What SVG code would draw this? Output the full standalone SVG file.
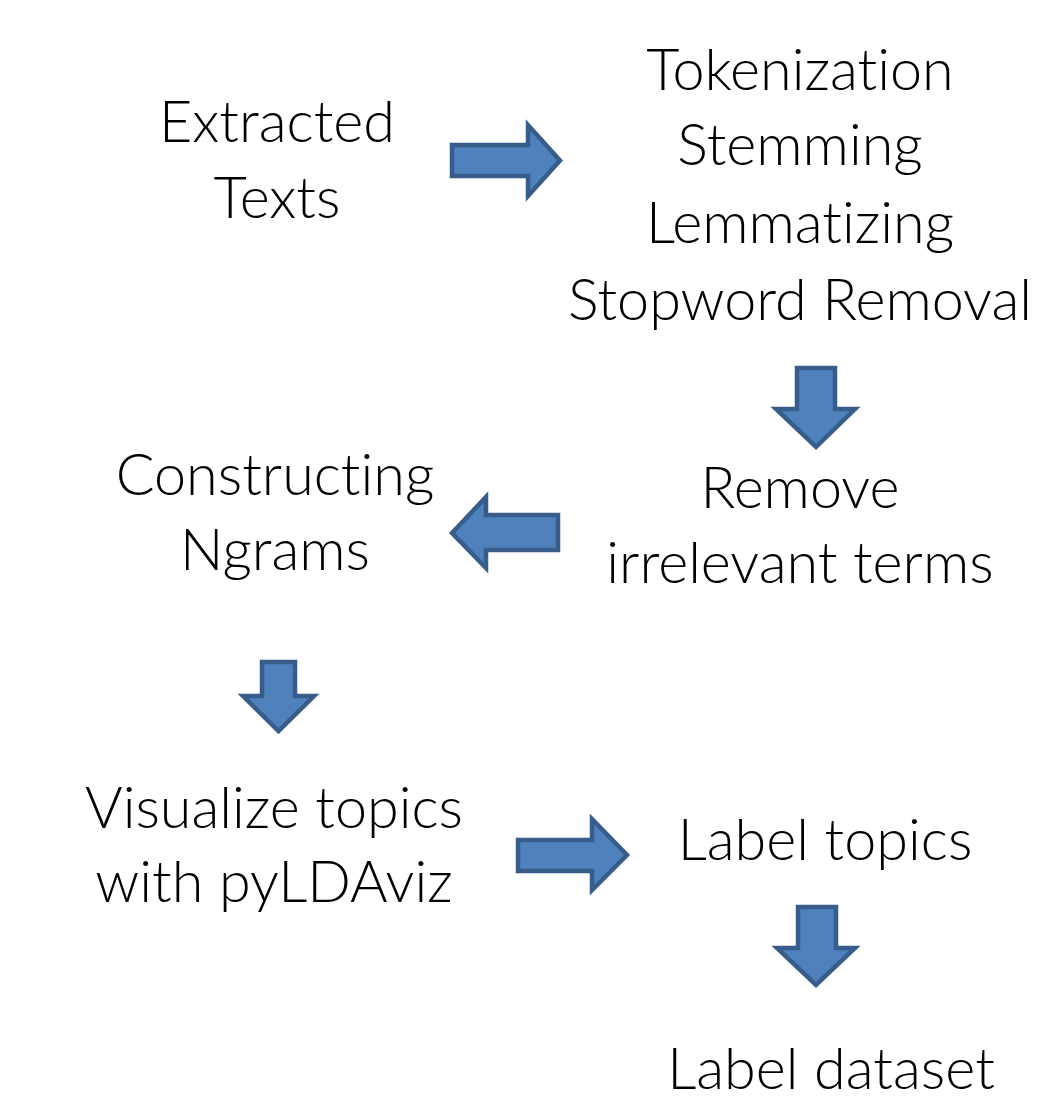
<svg xmlns="http://www.w3.org/2000/svg" width="1043" height="1101" viewBox="0 0 1043 1101">
  <style>
    .lbl { font-family: "Lato", "Open Sans", "Liberation Sans", sans-serif; font-weight: 300; font-size: 57.5px; fill: #000; text-anchor: middle; font-variant-ligatures: none; font-feature-settings: "liga" 0; }
    .arrow { fill: #4F81BD; stroke: #385D8A; stroke-width: 4.5; stroke-linejoin: miter; }
  </style>
  <rect width="1043" height="1101" fill="#fff"/>

  <g id="node-extracted">
    <text class="lbl" x="277" y="142">Extracted</text>
    <text class="lbl" x="277" y="218">Texts</text>
  </g>
  <g id="node-preprocess">
    <text class="lbl" x="800" y="90">Tokenization</text>
    <text class="lbl" x="800" y="165">Stemming</text>
    <text class="lbl" x="800" y="243">Lemmatizing</text>
    <text class="lbl" x="800" y="320">Stopword Removal</text>
  </g>
  <g id="node-remove">
    <text class="lbl" x="800" y="508">Remove</text>
    <text class="lbl" x="800" y="583">irrelevant terms</text>
  </g>
  <g id="node-ngrams">
    <text class="lbl" x="275" y="495">Constructing</text>
    <text class="lbl" x="275" y="570">Ngrams</text>
  </g>
  <g id="node-visualize">
    <text class="lbl" x="274" y="828">Visualize topics</text>
    <text class="lbl" x="274" y="902">with pyLDAviz</text>
  </g>
  <g id="node-label-topics">
    <text class="lbl" x="825" y="860">Label topics</text>
  </g>
  <g id="node-label-dataset">
    <text class="lbl" x="831" y="1089">Label dataset</text>
  </g>

  <g id="connectors">
    <path class="arrow" d="M452,145 L528,145 L528,125 L560,160.5 L528,196 L528,176 L452,176 Z"/>
    <path class="arrow" d="M797,368 L835,368 L835,409 L855,409 L816,447 L776,409 L797,409 Z"/>
    <path class="arrow" d="M452,533 L486,497 L486,515 L558,515 L558,550 L486,550 L486,568 Z"/>
    <path class="arrow" d="M262,662 L295,662 L295,696 L314,696 L278.5,731 L243,696 L262,696 Z"/>
    <path class="arrow" d="M518,840 L592,840 L592,819 L627,855 L592,890 L592,871 L518,871 Z"/>
    <path class="arrow" d="M798,907 L836,907 L836,948 L855,948 L816,985 L777,948 L798,948 Z"/>
  </g>
</svg>
